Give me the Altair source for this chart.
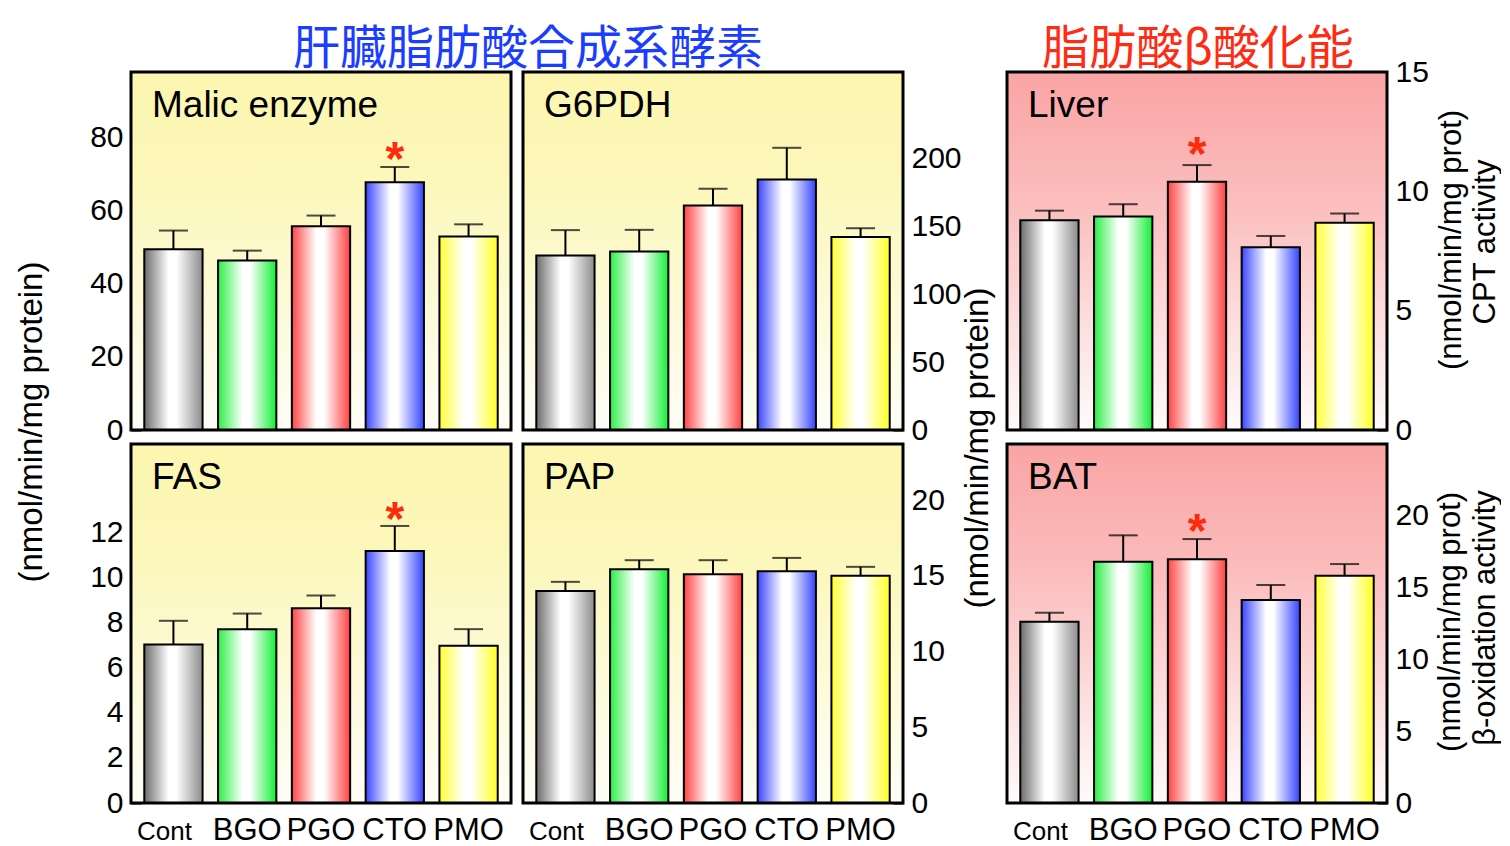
import altair as alt
import pandas as pd

FONT = "Liberation Sans"
CJK = "Noto Sans CJK JP"

groups = ["Cont", "BGO", "PGO", "CTO", "PMO"]
bar_left = ["#6c6c6c", "#2bee46", "#ff4444", "#3a46ff", "#ffff33"]
bar_right = ["#8c8c8c", "#12ee36", "#ff4040", "#3344ff", "#ffff22"]

# ---- data (mean, SEM) ----
malic_mean = [49.5, 46.4, 55.8, 67.8, 53.0]
malic_sem = [5.1, 2.7, 2.9, 4.2, 3.3]
g6pdh_mean = [128.6, 131.6, 165.5, 184.7, 142.4]
g6pdh_sem = [18.8, 16.0, 12.4, 23.4, 6.4]
liver_mean = [8.79, 8.95, 10.40, 7.66, 8.68]
liver_sem = [0.40, 0.51, 0.70, 0.47, 0.39]
fas_mean = [7.02, 7.70, 8.63, 11.16, 6.96]
fas_sem = [1.05, 0.69, 0.56, 1.11, 0.74]
pap_mean = [14.0, 15.43, 15.1, 15.3, 15.0]
pap_sem = [0.60, 0.60, 0.93, 0.88, 0.59]
bat_mean = [12.63, 16.80, 16.97, 14.14, 15.83]
bat_sem = [0.62, 1.84, 1.41, 1.04, 0.81]

malic_ticks = [0, 20, 40, 60, 80]
g6pdh_ticks = [0, 50, 100, 150, 200]
liver_ticks = [0, 5, 10, 15]
fas_ticks = [0, 2, 4, 6, 8, 10, 12]
pap_ticks = [0, 5, 10, 15, 20]
bat_ticks = [0, 5, 10, 15, 20]

# significance markers: (group, y value of the asterisk)
malic_star = ("CTO", 76.0)
fas_star = ("CTO", 12.9)
liver_star = ("PGO", 11.85)
bat_star = ("PGO", 19.4)

title_left = "肝臓脂肪酸合成系酵素"
title_right = "脂肪酸β酸化能"
ytitle_left = "(nmol/min/mg protein)"
ytitle_right1 = "(nmol/min/mg prot)"
ytitle_liver = "CPT activity"
ytitle_bat = "β-oxidation activity"

PW = 380
H_TOP = 358
H_BOT = 359


def grad(stops, horizontal):
    if horizontal:
        return alt.LinearGradient(gradient="linear", x1=0, x2=1, y1=0, y2=0,
                                  stops=[alt.GradientStop(color=c, offset=o) for o, c in stops])
    return alt.LinearGradient(gradient="linear", x1=0, x2=0, y1=0, y2=1,
                              stops=[alt.GradientStop(color=c, offset=o) for o, c in stops])


YELLOW_BG = [(0, "#fcf6b0"), (0.3, "#fcf7ba"), (1, "#fdfdf7")]
PINK_BG = [(0, "#faa4a4"), (0.35, "#fbbcbc"), (1, "#fefbfb")]


def one_row():
    return pd.DataFrame({"k": [0]})


def panel(name, means, sems, ymax, ticks, orient, star, bg, height, bottom):
    df = pd.DataFrame({"group": groups, "mean": means,
                       "top": [m + s for m, s in zip(means, sems)]})
    xscale = alt.Scale(domain=groups, paddingInner=0.21, paddingOuter=0.18)
    if bottom:
        xaxis = alt.Axis(title=None, orient="bottom", domain=False, ticks=False, tickSize=0,
                         labelPadding=36, labelBaseline="alphabetic", labelAngle=0,
                         labelFont=FONT, labelColor="black",
                         labelFontSize={"condition": {"test": "datum.value === 'Cont'", "value": 26}, "value": 31},
                         labelOffset={"condition": {"test": "datum.value === 'Cont'", "value": -9}, "value": 0})
    else:
        xaxis = None
    yscale = alt.Scale(domain=[0, ymax], nice=False, zero=True)
    yaxis = alt.Axis(title=None, orient=orient, values=ticks, domain=False, grid=False,
                     tickSize=10, tickWidth=2, tickColor="black", offset=-10,
                     labelPadding=8, labelFont=FONT, labelFontSize=30, labelColor="black",
                     labelFlush=False, labelOverlap=False)
    X = alt.X("group:N", scale=xscale, axis=xaxis, sort=groups)

    layers = []
    layers.append(alt.Chart(one_row()).mark_rect(fill=grad(bg, False), strokeWidth=0).encode(
        x=alt.value(0), x2=alt.value(PW), y=alt.value(0), y2=alt.value(height)))
    base = alt.Chart(df)
    for i, g in enumerate(groups):
        fill = grad([(0, bar_left[i]), (0.42, "#ffffff"), (0.55, "#ffffff"), (1, bar_right[i])], True)
        layers.append(base.transform_filter(alt.datum.group == g).mark_bar(
            fill=fill, stroke="black", strokeWidth=2).encode(
            x=X, y=alt.Y("mean:Q", scale=yscale, axis=yaxis)))
    layers.append(base.mark_rule(color="black", strokeWidth=2).encode(
        x=X, y=alt.Y("mean:Q", scale=yscale, axis=yaxis), y2="top:Q"))
    layers.append(base.mark_tick(color="black", thickness=2, size=29).encode(
        x=X, y=alt.Y("top:Q", scale=yscale, axis=yaxis)))
    if star is not None:
        sdf = pd.DataFrame({"group": [star[0]], "y": [star[1]]})
        layers.append(alt.Chart(sdf).mark_text(text="*", font=FONT, fontWeight="bold", fontSize=48,
                                               color="#ff2a0a", dy=9).encode(
            x=X, y=alt.Y("y:Q", scale=yscale, axis=yaxis)))
    layers.append(alt.Chart(pd.DataFrame({"name": [name]})).mark_text(
        align="left", baseline="alphabetic", font=FONT, fontSize=37, color="black").encode(
        x=alt.value(21), y=alt.value(45), text="name:N"))
    layers.append(alt.Chart(one_row()).mark_rect(fill="transparent", stroke="black", strokeWidth=3).encode(
        x=alt.value(0), x2=alt.value(PW), y=alt.value(0), y2=alt.value(height)))
    return alt.layer(*layers).properties(width=PW, height=height)


def cell(w, h, texts=()):
    layers = [alt.Chart(one_row()).mark_rect(opacity=0).encode(
        x=alt.value(0), x2=alt.value(w), y=alt.value(0), y2=alt.value(h))]
    for t, cx, cy, size, angle, color, font, baseline in texts:
        layers.append(alt.Chart(pd.DataFrame({"t": [t]})).mark_text(
            angle=angle, align="center", baseline=baseline, font=font, fontSize=size,
            color=color).encode(x=alt.value(cx), y=alt.value(cy), text="t:N"))
    return alt.layer(*layers).properties(width=w, height=h)


W0, WM, WR = 111, 80, 95
H0 = 50

row0 = [
    cell(W0, H0),
    cell(PW, H0, [(title_left, 397, 56, 47, 0, "#1a3dff", CJK, "alphabetic")]),
    cell(PW, H0),
    cell(WM, H0),
    cell(PW, H0, [(title_right, 191, 56, 47, 0, "#ff2b12", CJK, "alphabetic")]),
    cell(WR, H0),
]
row1 = [
    cell(W0, H_TOP, [(ytitle_left, 24, 350, 33, 270, "black", FONT, "middle")]),
    panel("Malic enzyme", malic_mean, malic_sem, 98, malic_ticks, "left", malic_star, YELLOW_BG, H_TOP, False),
    panel("G6PDH", g6pdh_mean, g6pdh_sem, 264, g6pdh_ticks, "right", None, YELLOW_BG, H_TOP, False),
    cell(WM, H_TOP, [(ytitle_left, 63, 376, 33, 270, "black", FONT, "middle")]),
    panel("Liver", liver_mean, liver_sem, 15, liver_ticks, "right", liver_star, PINK_BG, H_TOP, False),
    cell(WR, H_TOP, [(ytitle_right1, 53, 168, 31, 270, "black", FONT, "middle"),
                     (ytitle_liver, 87, 170, 31, 270, "black", FONT, "middle")]),
]
row2 = [
    cell(W0, H_BOT),
    panel("FAS", fas_mean, fas_sem, 15.9, fas_ticks, "left", fas_star, YELLOW_BG, H_BOT, True),
    panel("PAP", pap_mean, pap_sem, 23.7, pap_ticks, "right", None, YELLOW_BG, H_BOT, True),
    cell(WM, H_BOT),
    panel("BAT", bat_mean, bat_sem, 25, bat_ticks, "right", bat_star, PINK_BG, H_BOT, True),
    cell(WR, H_BOT, [(ytitle_right1, 52, 178, 31, 270, "black", FONT, "middle"),
                     (ytitle_bat, 87, 174, 31, 270, "black", FONT, "middle")]),
]

chart = alt.concat(*(row0 + row1 + row2), columns=6, spacing={"row": 14, "column": 12},
                   bounds="flush", align="each", padding=0).configure_view(strokeWidth=0)

chart.save("out.html", embed_options={"renderer": "svg", "actions": False})
